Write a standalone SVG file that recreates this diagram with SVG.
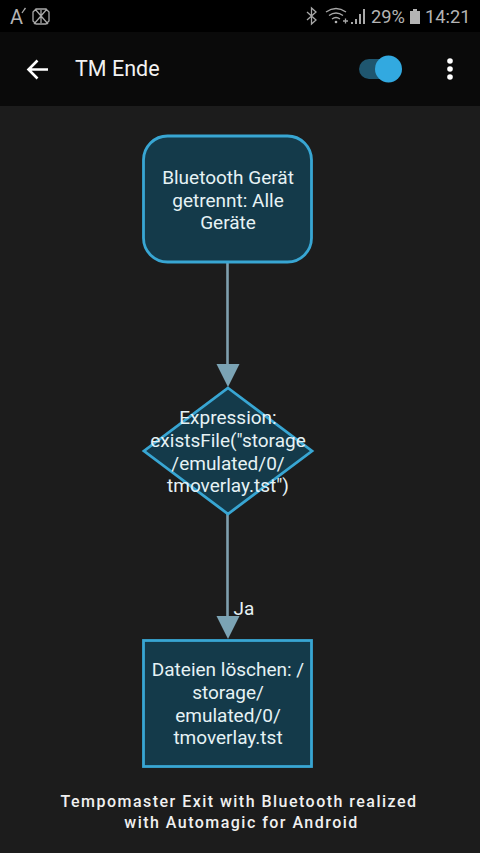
<svg xmlns="http://www.w3.org/2000/svg" width="480" height="853" viewBox="0 0 480 853">
<style>
.n{font-family:Roboto,"Liberation Sans",sans-serif;font-size:19px;fill:#e6f2f5;text-anchor:middle}
.node{fill:#143a4a;stroke:#38a6d3;stroke-width:2.8}
.edge{stroke:#7f9fae;stroke-width:2.6;fill:none}
.head{fill:#7ba3b4}
.st{font-family:Roboto,"Liberation Sans",sans-serif;font-size:18.3px;fill:#b4b4b4}
.ic{fill:none;stroke:#a8a8a8;stroke-width:1.3}
.cap{font-family:Roboto,"Liberation Sans",sans-serif;font-size:16px;font-weight:500;fill:#f0f0f0;text-anchor:middle;letter-spacing:1.47px}
</style>
<rect width="480" height="853" fill="#1c1c1c"/>
<rect width="480" height="32" fill="#000"/>
<rect y="32" width="480" height="74" fill="#0a0a0a"/>
<g id="status-bar">
<text x="10" y="23.500" font-family="Roboto,'Liberation Sans',sans-serif" font-size="20" fill="#b4b4b4">A</text>
<path class="ic" d="M22 13l2-3M24 10l1.500-2"/>
<path class="ic" d="M36 9h10l3 3v9l-3 3h-10l-3-3v-9zM35 9l13 15M47 9l-13 15M41 10v13"/>
<path class="ic" stroke-width="1.600" d="M307 12l9 8-4.500 4v-16l4.500 4-9 8"/>
<path class="ic" d="M326 12q10-7 20 0M329 15.500q7-5 14 0M332 19q4-3 8 0"/>
<circle cx="336" cy="22" r="1.300" fill="#b4b4b4"/>
<path d="M343 21h5M345.500 18.500v5" class="ic"/>
<path d="M351 22h2v2h-2zM355 19h2v5h-2zM359 14h2v10h-2zM363 9h2v15h-2z" fill="#a8a8a8"/>
<text x="371" y="23" class="st">29%</text>
<path d="M410 11h3v-2h4v2h3v13h-10z" fill="#b4b4b4"/>
<text x="425" y="23" class="st">14:21</text>
</g>
<g id="app-bar">
<path d="M48 69.500H29M37.500 60.500l-9 9 9 9" fill="none" stroke="#fff" stroke-width="2.600"/>
<text x="75" y="76" font-family="Roboto,'Liberation Sans',sans-serif" font-size="21.500" fill="#f2f2f2">TM Ende</text>
<rect x="359" y="59" width="36" height="20" rx="10" fill="#1f566f"/>
<circle cx="388.500" cy="69" r="13.500" fill="#32a9e0"/>
<circle cx="450" cy="61" r="2.800" fill="#fff"/><circle cx="450" cy="69" r="2.800" fill="#fff"/><circle cx="450" cy="77" r="2.800" fill="#fff"/>
</g>
<g id="connectors">
<path class="edge" d="M227.500 262V366"/>
<path class="head" d="M216.500 364h23l-11.500 23z"/>
<path class="edge" d="M227.500 514V618"/>
<path class="head" d="M216.500 616h23l-11.500 23z"/>
<text x="233.500" y="615" font-family="Roboto,'Liberation Sans',sans-serif" font-size="19" fill="#e6f2f5">Ja</text>
</g>
<g id="node-trigger">
<rect class="node" x="143.500" y="136" width="168" height="126" rx="24"/>
<text class="n" x="228" y="184">Bluetooth Gerät</text>
<text class="n" x="228" y="206.500">getrennt: Alle</text>
<text class="n" x="228" y="229">Geräte</text>
</g>
<g id="node-condition">
<path class="node" d="M228 388L312 451 228 514 144 451z"/>
<text class="n" x="228" y="424">Expression:</text>
<text class="n" x="228" y="447">existsFile("storage</text>
<text class="n" x="228" y="469.500">/emulated/0/</text>
<text class="n" x="228" y="492">tmoverlay.tst")</text>
</g>
<g id="node-action">
<rect class="node" x="143.500" y="640.500" width="168" height="126"/>
<text class="n" x="228" y="676">Dateien löschen: /</text>
<text class="n" x="228" y="699">storage/</text>
<text class="n" x="228" y="721.500">emulated/0/</text>
<text class="n" x="228" y="744">tmoverlay.tst</text>
</g>
<g id="caption">
<text class="cap" x="239" y="807">Tempomaster Exit with Bluetooth realized</text>
<text class="cap" x="241.500" y="828">with Automagic for Android</text>
</g>
</svg>
